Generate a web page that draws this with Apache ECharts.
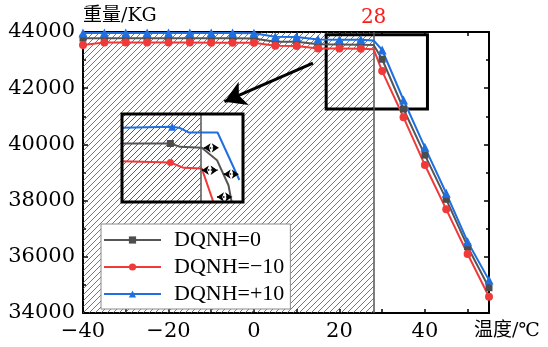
<!DOCTYPE html>
<html>
<head>
<meta charset="utf-8">
<script src="https://cdn.jsdelivr.net/npm/echarts@6/dist/echarts.min.js"></script>
<style>
  html, body { margin: 0; padding: 0; background: #fff; }
  #chart { width: 548px; height: 347px; }
</style>
</head>
<body>
<div id="chart"></div>
<script>
// 温度 (°C) 与 重量 (KG)
var temps = [-40, -35, -30, -25, -20, -15, -10, -5, 0, 5, 10, 15, 20, 25, 28, 30, 35, 40, 45, 50, 55];
var weight0 = [43780, 43780, 43780, 43780, 43780, 43775, 43775, 43775, 43770, 43655, 43650, 43560, 43555, 43550, 43540, 43030, 41260, 39620, 38045, 36360, 34900];
var weightMinus10 = [43540, 43625, 43625, 43625, 43625, 43625, 43620, 43620, 43620, 43510, 43505, 43415, 43410, 43405, 43390, 42610, 40965, 39265, 37690, 36100, 34580];
var weightPlus10 = [43965, 43965, 43965, 43965, 43965, 43960, 43960, 43960, 43955, 43830, 43825, 43730, 43725, 43720, 43700, 43360, 41580, 39895, 38260, 36535, 35170];
var noMarkTemp = 28;

var limitTemp = 28;
var zoomBox = [16.9, 41260, 40.6, 43900];
var arrowFrom = [13.8, 42890];
var arrowTo = [-6.9, 41520];

// 放大图 (inset)
var insetRange = [15, 35, 43000, 44000];
var insetBlueX = [15, 23.3, 24.6, 26, 30.8, 34.4];
var insetBlueY = [43845, 43855, 43840, 43790, 43790, 43250];
var insetGrayX = [15, 23, 24.6, 28.2, 30.7, 32.6, 33.4];
var insetGrayY = [43665, 43665, 43627, 43616, 43475, 43190, 42900];
var insetRedX = [15, 23, 25.2, 28.2, 30.6];
var insetRedY = [43464, 43449, 43388, 43380, 42900];
var insetMarkIdx = 1;
var shiftY = [43616, 43361, 43316, 43057];
var shiftFrom = [28.5, 28.2, 31.8, 30.7];
var shiftTo = [31, 30.8, 34.3, 33.2];

var serif = "'DejaVu Serif', 'Noto Sans CJK SC', serif";
var legendFont = "'Liberation Serif', 'DejaVu Serif', serif";

function hatch() {
    var c = document.createElement('canvas');
    c.width = c.height = 6;
    var g = c.getContext('2d');
    g.strokeStyle = '#555';
    g.lineWidth = 0.8;
    g.beginPath();
    g.moveTo(0, 6); g.lineTo(6, 0);
    g.moveTo(-1, 1); g.lineTo(1, -1);
    g.moveTo(5, 7); g.lineTo(7, 5);
    g.stroke();
    return { image: c, repeat: 'repeat' };
}

function mainData(ys) {
    return temps.map(function (t, i) {
        if (t === noMarkTemp) return { value: [t, ys[i]], symbol: 'none' };
        return [t, ys[i]];
    });
}
function insetData(xs, ys) {
    return xs.map(function (x, i) {
        if (i === insetMarkIdx) return [x, ys[i]];
        return { value: [x, ys[i]], symbol: 'none' };
    });
}

var myChart = echarts.init(document.getElementById('chart'));

var mainX = {
    type: 'value', gridIndex: 0, min: -40, max: 55, interval: 10,
    splitLine: { show: false },
    axisLine: { onZero: false, lineStyle: { color: '#000', width: 2 } },
    axisTick: { inside: true, length: 4, lineStyle: { color: '#000', width: 1.5 } }
};
var mainY = {
    type: 'value', gridIndex: 0, min: 34000, max: 44000, interval: 2000,
    splitLine: { show: false },
    axisLine: { show: true, onZero: false, lineStyle: { color: '#000', width: 2 } },
    axisTick: { inside: true, length: 5, lineStyle: { color: '#000', width: 1.5 } },
    minorTick: { show: true, splitNumber: 2, length: 3, lineStyle: { color: '#000', width: 1.5 } }
};

myChart.setOption({
    animation: false,
    backgroundColor: '#fff',
    grid: [
        { left: 83, right: 59, top: 32, bottom: 34 },
        { left: 122, top: 114, width: 121, height: 88, show: true, z: 20,
          backgroundColor: 'rgba(0,0,0,0)', borderColor: '#000', borderWidth: 3 }
    ],
    legend: {
        data: ['DQNH=0', 'DQNH=\u221210', 'DQNH=+10'],
        orient: 'vertical',
        left: 101, top: 224,
        itemWidth: 57, itemHeight: 9, itemGap: 5,
        padding: [5, 6, 4, 2],
        backgroundColor: '#fff',
        borderColor: '#8a8a8a', borderWidth: 1,
        textStyle: { fontFamily: legendFont, fontSize: 22, color: '#000', lineHeight: 21, padding: [0, 0, 0, 8] }
    },
    xAxis: [
        Object.assign({}, mainX, {
            position: 'bottom',
            name: '温度/℃', nameLocation: 'end', nameGap: -15,
            nameTextStyle: { fontFamily: serif, fontSize: 19, color: '#000', align: 'left', verticalAlign: 'top', padding: [9, 0, 0, 0] },
            axisLabel: {
                margin: 8, fontFamily: serif, fontSize: 21, color: '#000',
                formatter: function (v) { return v % 20 === 0 ? String(v).replace('-', '\u2212') : ''; }
            }
        }),
        Object.assign({}, mainX, { position: 'top', axisLabel: { show: false } }),
        { type: 'value', gridIndex: 1, min: insetRange[0], max: insetRange[1], show: false }
    ],
    yAxis: [
        Object.assign({}, mainY, {
            position: 'left',
            name: '重量/KG', nameLocation: 'end', nameGap: 6,
            nameTextStyle: { fontFamily: serif, fontSize: 19, color: '#000', align: 'left', verticalAlign: 'bottom' },
            axisLabel: {
                margin: 8, fontFamily: serif, fontSize: 21, color: '#000',
                formatter: function (v) { return String(v); }
            }
        }),
        Object.assign({}, mainY, { position: 'right', axisLabel: { show: false } }),
        { type: 'value', gridIndex: 1, min: insetRange[2], max: insetRange[3], show: false }
    ],
    series: [
        // hatched region up to 28
        {
            type: 'line', data: [], z: 1, silent: true,
            markArea: {
                silent: true, z: 1,
                itemStyle: { color: hatch() },
                data: [[{ xAxis: -40, yAxis: 34000 }, { xAxis: limitTemp, yAxis: 44000 }]]
            }
        },
        // 28 line, zoom box, arrow
        {
            type: 'line', data: [], z: 2, silent: true,
            markLine: {
                silent: true, symbol: 'none', z: 2,
                lineStyle: { color: '#555', width: 1.5, type: 'solid' },
                label: {
                    show: true, position: 'end', distance: 4, formatter: '28',
                    color: '#ff1a1a', fontFamily: serif, fontSize: 20
                },
                data: [{ xAxis: limitTemp }]
            },
            markArea: {
                silent: true, z: 2,
                itemStyle: { color: 'rgba(0,0,0,0)', borderColor: '#000', borderWidth: 3 },
                data: [[{ xAxis: zoomBox[0], yAxis: zoomBox[1] }, { xAxis: zoomBox[2], yAxis: zoomBox[3] }]]
            }
        },
        {
            type: 'line', data: [], z: 2, silent: true,
            markLine: {
                silent: true, symbol: ['none', 'arrow'], symbolSize: [19, 21], z: 3,
                lineStyle: { color: '#000', width: 3, type: 'solid' },
                label: { show: false },
                data: [[{ coord: arrowFrom }, { coord: arrowTo }]]
            }
        },
        {
            name: 'DQNH=0', type: 'line', z: 3,
            symbol: 'rect', symbolSize: 7,
            itemStyle: { color: '#4d4d4d' },
            lineStyle: { color: '#555', width: 2 },
            data: mainData(weight0)
        },
        {
            name: 'DQNH=\u221210', type: 'line', z: 3,
            symbol: 'circle', symbolSize: 8,
            itemStyle: { color: '#f03a3a' },
            lineStyle: { color: '#f03a3a', width: 2 },
            data: mainData(weightMinus10)
        },
        {
            name: 'DQNH=+10', type: 'line', z: 3,
            symbol: 'triangle', symbolSize: 9,
            itemStyle: { color: '#1f6fe0' },
            lineStyle: { color: '#1f6fe0', width: 2 },
            data: mainData(weightPlus10)
        },
        // inset: hatch left of 28, white right of 28
        {
            type: 'line', xAxisIndex: 2, yAxisIndex: 2, z: 10, silent: true,
            symbol: 'none',
            lineStyle: { width: 0 },
            areaStyle: { color: hatch(), opacity: 1, origin: 'start' },
            data: [[insetRange[0], insetRange[3]], [limitTemp, insetRange[3]]]
        },
        {
            type: 'line', xAxisIndex: 2, yAxisIndex: 2, z: 10, silent: true,
            symbol: 'none',
            lineStyle: { width: 0 },
            areaStyle: { color: '#fff', opacity: 1, origin: 'start' },
            data: [[limitTemp, insetRange[3]], [insetRange[1], insetRange[3]]]
        },
        {
            type: 'line', xAxisIndex: 2, yAxisIndex: 2, z: 12, silent: true,
            symbol: 'rect', symbolSize: 7,
            itemStyle: { color: '#4d4d4d' },
            lineStyle: { color: '#555', width: 2 },
            data: insetData(insetGrayX, insetGrayY)
        },
        {
            type: 'line', xAxisIndex: 2, yAxisIndex: 2, z: 12, silent: true,
            symbol: 'circle', symbolSize: 7,
            itemStyle: { color: '#f03a3a' },
            lineStyle: { color: '#f03a3a', width: 2 },
            data: insetData(insetRedX, insetRedY)
        },
        {
            type: 'line', xAxisIndex: 2, yAxisIndex: 2, z: 12, silent: true,
            symbol: 'triangle', symbolSize: 8,
            itemStyle: { color: '#1f6fe0' },
            lineStyle: { color: '#1f6fe0', width: 2 },
            data: insetData(insetBlueX, insetBlueY)
        },
        {
            type: 'line', data: [], xAxisIndex: 2, yAxisIndex: 2, z: 14, silent: true,
            markLine: {
                silent: true, symbol: ['arrow', 'arrow'], symbolSize: [7, 7], z: 14,
                lineStyle: { color: '#000', width: 1.5, type: 'dotted' },
                label: { show: false },
                data: shiftY.map(function (y, i) {
                    return [{ coord: [shiftFrom[i], y] }, { coord: [shiftTo[i], y] }];
                })
            }
        },
        {
            type: 'line', data: [], xAxisIndex: 2, yAxisIndex: 2, z: 14, silent: true,
            markLine: {
                silent: true, symbol: 'none', z: 14,
                lineStyle: { color: '#555', width: 1.5, type: 'solid' },
                label: { show: false },
                data: [{ xAxis: limitTemp }]
            }
        }
    ]
});
</script>
</body>
</html>
